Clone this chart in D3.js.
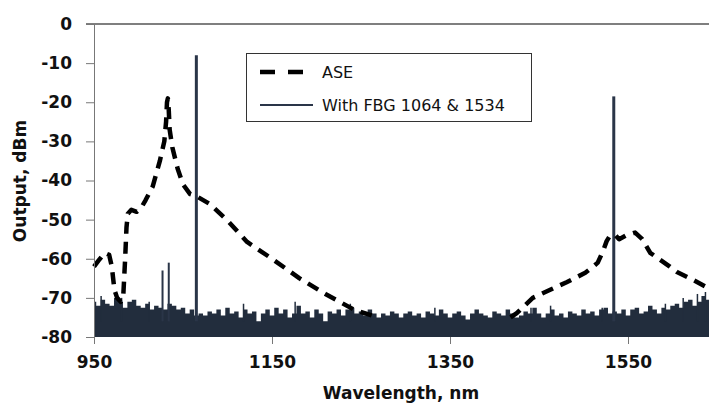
<!DOCTYPE html>
<html>
<head>
<meta charset="utf-8">
<script src="https://cdn.jsdelivr.net/npm/d3@7"></script>
<style>
  body { margin: 0; background: #fff; }
  .tick text { font-family: "DejaVu Sans", sans-serif; font-weight: bold; font-size: 17px; fill: #111; }
  .label { font-family: "DejaVu Sans", sans-serif; font-weight: bold; font-size: 17px; fill: #111; }
  .legend text { font-family: "DejaVu Sans", sans-serif; font-size: 16px; fill: #111; }
</style>
</head>
<body>
<div id="chart"></div>
<script>
let canvasWidth = 709;
let canvasHeight = 405;
let plotLeft = 94, plotTop = 24, plotRight = 709, plotBottom = 337;

let xTicks = [950, 1150, 1350, 1550];
let yTicks = [0, -10, -20, -30, -40, -50, -60, -70, -80];

// ASE curve, left and right parts (the middle sinks into the noise floor)
let aseLeft = [
    [950, -62], [955, -60.5], [962, -58.5], [967, -59], [970, -62], [973, -68],
    [976, -70], [980, -71], [983, -69], [985, -60], [986.5, -52], [988, -48.5],
    [992, -47.5], [998, -48], [1003, -47], [1008, -45], [1016, -41.5], [1024, -35],
    [1029, -30], [1031, -25], [1032, -20], [1033, -19], [1034, -22], [1035, -27],
    [1038, -31.5], [1044, -37], [1050, -41], [1058, -43.5], [1065, -44], [1080, -46],
    [1099, -50], [1122, -55.7], [1150, -60], [1181, -65], [1210, -69], [1242, -73],
    [1262, -74.5]
];
let aseRight = [
    [1418, -75], [1425, -73.9], [1443, -70], [1462, -68], [1481, -66], [1502, -63.6],
    [1511, -62], [1516, -61], [1522, -58], [1526, -55.5], [1530, -54], [1536, -54],
    [1540, -55], [1548, -54], [1558, -53.3], [1566, -55], [1575, -58.5], [1597, -62],
    [1605, -63.4], [1623, -65.4], [1640, -67.5], [1645, -68.5]
];

// FBG trace: noise floor tops, 5 nm apart starting at 950 nm
let noiseStart = 950, noiseStep = 5;
let noiseTops = [
    -71, -72, -70.5, -71.5, -72, -70, -71, -72.5, -71, -70.5, -72,
    -72.5, -71.5, -73, -72, -72.5, -73, -71.5, -72, -73, -72.5, -74, -73,
    -74.5, -74, -74.5, -73.5, -74, -73, -74.5, -72.5, -74, -73.5, -75, -73,
    -74, -73.5, -76, -74, -73, -74.5, -72.5, -74, -73, -75, -74, -72,
    -74, -73.5, -75, -73, -74, -76, -73.5, -74, -73, -74.5, -73, -72.5,
    -74, -73.5, -74.5, -73, -74, -75, -74, -74.5, -73.5, -74, -75, -74,
    -73.5, -74.5, -74, -75, -73.5, -74, -74.5, -73, -74, -75,
    -74, -73.5, -74.5, -75.5, -74, -73, -74, -74.5, -75, -73.5,
    -74, -74.5, -73, -74, -75, -74.5, -73.5, -74, -72.5, -74,
    -75, -74, -73, -74.5, -74, -75, -73.5, -74, -74.5, -73,
    -74, -73.5, -74.5, -73, -72.5, -74, -73.5, -74, -73, -74.5,
    -73, -72.5, -74, -73.5, -72, -73, -74, -72.5, -73, -72,
    -71.5, -72.5, -71, -70.5, -72, -71, -69.5, -70.5, -70
];
// narrow noise peaks poking above the floor
let noisePeaks = [
    { wl: 958, v: -69.5 }, { wl: 981, v: -70 }, { wl: 1012, v: -71 },
    { wl: 1118, v: -71.5 }, { wl: 1176, v: -71 }, { wl: 1238, v: -71.5 },
    { wl: 1333, v: -72.5 }, { wl: 1441, v: -72.5 }, { wl: 1463, v: -72 },
    { wl: 1521, v: -72.5 }, { wl: 1592, v: -71.5 }, { wl: 1612, v: -70 },
    { wl: 1628, v: -69 }, { wl: 1637, v: -68.5 }
];
let fbgSpikes = [
    { wl: 1027, v: -63, w: 2 },
    { wl: 1034, v: -61, w: 2 },
    { wl: 1065, v: -8, w: 3 },
    { wl: 1534, v: -18.5, w: 3 }
];

let svg = d3.select("#chart")
    .append("svg")
    .attr("width", canvasWidth)
    .attr("height", canvasHeight);

let xScale = d3.scaleLinear().domain([950, 1641]).range([plotLeft, plotRight]);
let yScale = d3.scaleLinear().domain([-80, 0]).range([plotBottom, plotTop]);

let noise = noiseTops.map((v, i) => [noiseStart + i * noiseStep, v]);

// noise floor as a filled step area
svg.append("path")
    .datum(noise)
    .attr("fill", "#222d3d")
    .attr("d", d3.area()
        .curve(d3.curveStep)
        .x(d => xScale(d[0]))
        .y0(yScale(-80))
        .y1(d => yScale(d[1])));

// thin noise peaks
svg.selectAll(".peak")
    .data(noisePeaks)
    .join("line")
    .attr("class", "peak")
    .attr("x1", d => xScale(d.wl))
    .attr("x2", d => xScale(d.wl))
    .attr("y1", yScale(-76))
    .attr("y2", d => yScale(d.v))
    .attr("stroke", "#222d3d")
    .attr("stroke-width", 1.5);

// spikes of the FBG trace
svg.selectAll(".spike")
    .data(fbgSpikes)
    .join("line")
    .attr("class", "spike")
    .attr("x1", d => xScale(d.wl))
    .attr("x2", d => xScale(d.wl))
    .attr("y1", yScale(-76))
    .attr("y2", d => yScale(d.v))
    .attr("stroke", "#2a3548")
    .attr("stroke-width", d => d.w);

// ASE dashed curve
let aseLine = d3.line()
    .x(d => xScale(d[0]))
    .y(d => yScale(d[1]));

[aseLeft, aseRight].forEach(part => {
    svg.append("path")
        .datum(part)
        .attr("fill", "none")
        .attr("stroke", "#000")
        .attr("stroke-width", 4.5)
        .attr("stroke-dasharray", "12,8")
        .attr("stroke-linejoin", "round")
        .attr("d", aseLine);
});

// top border line
svg.append("line")
    .attr("x1", plotLeft - 8).attr("x2", plotRight)
    .attr("y1", plotTop).attr("y2", plotTop)
    .attr("stroke", "#555")
    .attr("stroke-width", 1.5);

// y axis
let yAxis = svg.append("g")
    .attr("transform", "translate(" + plotLeft + ",0)")
    .call(d3.axisLeft(yScale).tickValues(yTicks).tickSize(8).tickSizeOuter(0).tickPadding(14)
        .tickFormat(d => String(d)));
yAxis.select(".domain").attr("stroke", "#777");
yAxis.selectAll(".tick line").attr("stroke", "#777");

// x axis
let xAxis = svg.append("g")
    .attr("transform", "translate(0," + plotBottom + ")")
    .call(d3.axisBottom(xScale).tickValues(xTicks).tickSize(7).tickSizeOuter(0).tickPadding(12)
        .tickFormat(d => String(d)));
xAxis.select(".domain").remove();
xAxis.selectAll(".tick line").attr("stroke", "#777");

// axis titles
svg.append("text")
    .attr("class", "label")
    .attr("text-anchor", "middle")
    .attr("x", 401)
    .attr("y", 399)
    .text("Wavelength, nm");

svg.append("text")
    .attr("class", "label")
    .attr("text-anchor", "middle")
    .attr("transform", "translate(26,181) rotate(-90)")
    .text("Output, dBm");

// legend
let legend = svg.append("g").attr("class", "legend");
legend.append("rect")
    .attr("x", 246.5).attr("y", 53.5)
    .attr("width", 285).attr("height", 68)
    .attr("fill", "#fff")
    .attr("stroke", "#333");
legend.append("line")
    .attr("x1", 260).attr("x2", 304).attr("y1", 72).attr("y2", 72)
    .attr("stroke", "#000").attr("stroke-width", 4.5)
    .attr("stroke-dasharray", "15,13");
legend.append("text").attr("x", 322).attr("y", 78).text("ASE");
legend.append("line")
    .attr("x1", 260).attr("x2", 313).attr("y1", 105).attr("y2", 105)
    .attr("stroke", "#2a3548").attr("stroke-width", 2);
legend.append("text").attr("x", 322).attr("y", 111).text("With FBG 1064 & 1534");
</script>
</body>
</html>
